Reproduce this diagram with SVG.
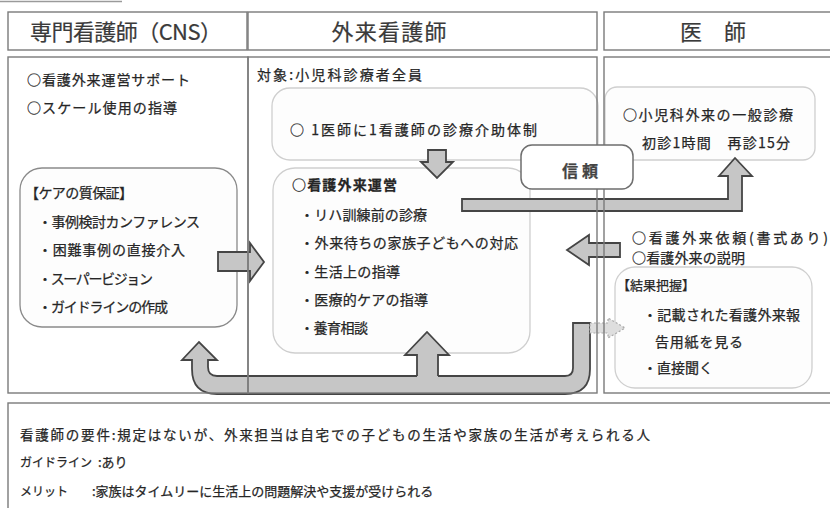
<svg xmlns="http://www.w3.org/2000/svg" width="830" height="508" viewBox="0 0 830 508">
<style>
text{font-family:"Noto Sans CJK JP","Noto Sans CJK SC",sans-serif;fill:#262626;stroke:#262626;stroke-width:0.25}
.hd{font-size:22px;fill:#3a3a3a;stroke:#3a3a3a;stroke-width:0.2}
.t{font-size:14px}
.b{font-size:14px;font-weight:bold}
.bt{font-size:13.5px}
.nt{font-size:13px}
.sm{font-size:12px}
.frame{fill:none;stroke:#7a7a7a;stroke-width:1.4}
.soft{fill:#fdfdfd;stroke:#cfcfcf;stroke-width:1.3}
.mid{fill:#fdfdfd;stroke:#8a8a8a;stroke-width:1.3}
.arrow{fill:#c6c6c6;stroke:#454545;stroke-width:1.8;stroke-linejoin:miter}
.faint{fill:#dedede;stroke:#a8a8a8;stroke-width:1.2;stroke-dasharray:2 2}
</style>
<rect x="0" y="0" width="830" height="508" fill="#ffffff"/>
<line x1="0" y1="1.5" x2="122" y2="1.5" stroke="#9a9a9a" stroke-width="1.4"/>

<!-- inner boxes -->
<g id="box-quality">
<rect class="mid" x="20" y="168" width="217" height="159" rx="22"/>
<text class="t" x="25" y="198" textLength="108">【ケアの質保証】</text>
<text class="t" x="38" y="227" textLength="162">・事例検討カンファレンス</text>
<text class="t" x="38" y="255" textLength="147">・困難事例の直接介入</text>
<text class="t" x="38" y="284" textLength="115">・スーパービジョン</text>
<text class="t" x="38" y="312" textLength="130">・ガイドラインの作成</text>
</g>
<g id="box-system">
<rect class="soft" x="272" y="88" width="326" height="72" rx="18"/>
<text class="t" x="290" y="135" textLength="247">○ 1医師に1看護師の診療介助体制</text>
</g>
<g id="box-operation">
<rect class="soft" x="273" y="168" width="257" height="185" rx="22"/>
<text class="b" x="292" y="190" textLength="105">○看護外来運営</text>
<text class="t" x="300" y="220" textLength="127">・リハ訓練前の診療</text>
<text class="t" x="300" y="248" textLength="218">・外来待ちの家族子どもへの対応</text>
<text class="t" x="300" y="277" textLength="100">・生活上の指導</text>
<text class="t" x="300" y="305" textLength="128">・医療的ケアの指導</text>
<text class="t" x="300" y="333" textLength="68">・養育相談</text>
</g>
<g id="box-general">
<rect class="soft" x="605" y="87" width="210" height="73" rx="12"/>
<text class="t" x="623" y="120" textLength="170">○小児科外来の一般診療</text>
<text class="t" x="642" y="148" textLength="148">初診1時間　再診15分</text>
</g>
<g id="box-result">
<rect class="soft" x="615" y="267" width="197" height="121" rx="20"/>
<text class="nt" x="617" y="290">【結果把握】</text>
<text class="t" x="643" y="320" textLength="157">・記載された看護外来報</text>
<text class="t" x="655" y="347" textLength="88">告用紙を見る</text>
<text class="t" x="643" y="373">・直接聞く</text>
</g>

<!-- connectors -->
<g id="connectors">
<path class="arrow" d="M428,150 H446 V162 H453 L437,178 L421,162 H428 Z"/>
<path class="arrow" d="M218,252 H250 V243 L264,262 L250,281 V271 H218 Z"/>
<path class="arrow" d="M620,243 H589 V235 L567,250 L589,265 V257 H620 Z"/>
<path class="arrow" d="M462,199 H728 V176 H719 L735,158 L752,176 H742 V211 H462 Z"/>
<path class="arrow" d="M590,323 V369 Q590,394 565,394 H217 Q192,394 192,369 V360 H182 L199,342 L217,360 H208 V367 Q208,376 217,376 H565 Q573,376 573,368 V323 Z"/>
<path d="M417,378 V355 H405 L427,332 L449,355 H438 V378 Z" fill="#c6c6c6" stroke="none"/>
<path d="M417,376 V355 H405 L427,332 L449,355 H438 V376" fill="none" stroke="#454545" stroke-width="1.8"/>
<path class="faint" d="M590,323 H608 V318 L625,328 L608,338 V333 H590 Z"/>
</g>

<!-- headers and columns -->
<g id="header-cns">
<rect class="frame" x="8" y="12" width="239" height="38"/>
<text class="hd" x="126" y="40" text-anchor="middle" textLength="192">専門看護師（CNS）</text>
</g>
<g id="header-outpatient-nurse">
<rect class="frame" x="248" y="12" width="349" height="38"/>
<text class="hd" x="389" y="40" text-anchor="middle" textLength="115">外来看護師</text>
</g>
<g id="header-doctor">
<rect class="frame" x="604" y="12" width="232" height="38"/>
<text class="hd" x="713" y="40" text-anchor="middle">医　師</text>
</g>
<g id="col-cns">
<rect class="frame" x="8" y="57" width="240" height="336"/>
<text class="t" x="27" y="85" textLength="163">○看護外来運営サポート</text>
<text class="t" x="27" y="113" textLength="150">○スケール使用の指導</text>
</g>
<g id="col-nurse">
<rect class="frame" x="248" y="57" width="349" height="336"/>
<text class="t" x="257" y="80" textLength="165">対象:小児科診療者全員</text>
</g>
<g id="col-doctor">
<rect class="frame" x="604" y="57" width="232" height="336"/>
<text class="t" x="632" y="243" textLength="196">○看護外来依頼(書式あり)</text>
<text class="t" x="632" y="263" textLength="113">○看護外来の説明</text>
</g>
<g id="box-trust">
<rect x="521" y="145" width="112" height="44" rx="11" fill="#ffffff" stroke="#6e6e6e" stroke-width="1.5"/>
<text class="t" x="580" y="177" text-anchor="middle" style="font-size:16px;font-weight:bold;fill:#444;stroke:#444" textLength="36">信頼</text>
</g>
<g id="notes">
<rect class="frame" x="8" y="403" width="830" height="110"/>
<text class="bt" x="20" y="440" textLength="630">看護師の要件:規定はないが、外来担当は自宅での子どもの生活や家族の生活が考えられる人</text>
<text class="sm" x="20" y="467">ガイドライン</text>
<text class="nt" x="98" y="467">:あり</text>
<text class="sm" x="20" y="496">メリット</text>
<text class="nt" x="92" y="496">:家族はタイムリーに生活上の問題解決や支援が受けられる</text>
</g>
</svg>
